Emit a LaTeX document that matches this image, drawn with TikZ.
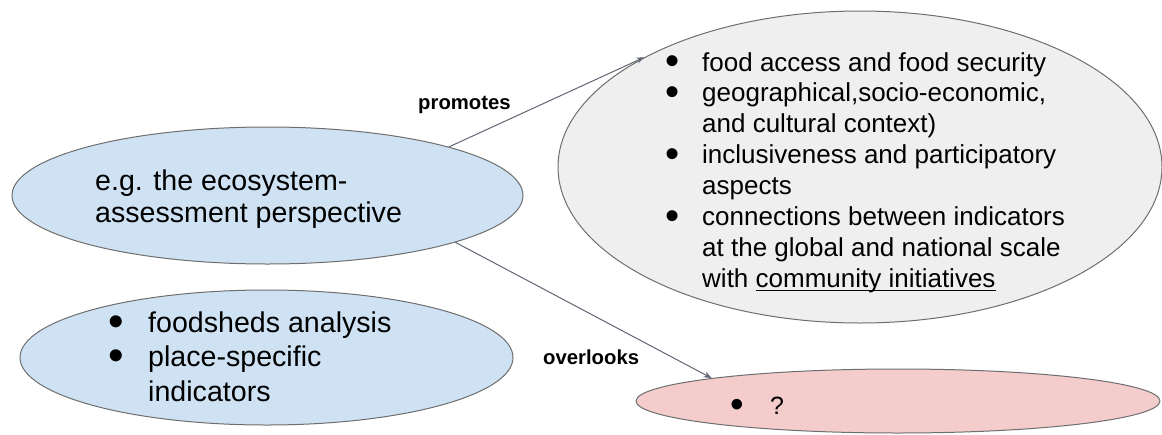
\documentclass[tikz,border=0pt]{standalone}
\usepackage{fontspec}
\setmainfont{Liberation Sans}
\usetikzlibrary{shapes.geometric,arrows.meta}
\definecolor{blueFill}{HTML}{CFE2F3}
\definecolor{grayFill}{HTML}{EFEFEF}
\definecolor{pinkFill}{HTML}{F4CCCC}
\definecolor{edgeCol}{HTML}{6E6E6E}
\definecolor{connCol}{HTML}{5F6673}
\tikzset{
  x=1pt, y=-1pt,
  oval/.style={ellipse, draw=edgeCol, line width=1pt, inner sep=0pt},
  conn/.style={draw=connCol, line width=1pt, -{Stealth[length=8pt,width=6pt]}},
  txt/.style={inner sep=0pt, anchor=base west, align=left},
  lbl/.style={inner sep=0pt, anchor=base west, font=\fontsize{20.3}{24}\selectfont\bfseries}
}
\newcommand{\bul}[1]{\makebox[#1][l]{\smash{\raisebox{-0.14em}{\scalebox{1.55}{\textbullet}}}}}
\newcommand{\myul}[1]{\setbox0\hbox{#1}\rlap{\rule[-3.5pt]{\wd0}{1.1pt}}\box0}
\begin{document}
\begin{tikzpicture}
\useasboundingbox (0,0) rectangle (1162,434);
% ellipses
\node[oval, fill=blueFill, minimum width=511pt, minimum height=137pt] (A) at (267.5,195.5) {};
\node[oval, fill=blueFill, minimum width=493pt, minimum height=135pt] (B) at (266.5,357.5) {};
\node[oval, fill=grayFill, minimum width=604pt, minimum height=312pt] (C) at (860,167) {};
\node[oval, fill=pinkFill, minimum width=524pt, minimum height=64pt] (D) at (898,401) {};
% texts
\node[txt, font=\fontsize{28.6}{32}\selectfont] (At) at (95,190)
  {\begin{tabular}[t]{@{}l@{}}e.g. the ecosystem-\\assessment perspective\end{tabular}};
\node[txt, font=\fontsize{28.6}{34.5}\selectfont] (Bt) at (108,332)
  {\begin{tabular}[t]{@{}l@{}l@{}}\bul{40pt} & foodsheds analysis\\
   \bul{40pt} & place-specific\\ & indicators\end{tabular}};
\node[txt, font=\fontsize{26}{30.9}\selectfont] (Ct) at (665,71)
  {\begin{tabular}[t]{@{}l@{}l@{}}\bul{37pt} & food access and food security\\
   \bul{37pt} & geographical,socio-economic,\\
   & and cultural context)\\
   \bul{37pt} & inclusiveness and participatory\\
   & aspects\\
   \bul{37pt} & connections between indicators\\
   & at the global and national scale\\
   & with \myul{community initiatives}\end{tabular}};
\node[txt, font=\fontsize{25}{30}\selectfont] (Dt) at (730,414)
  {\bul{40pt}?};
% connectors
\draw[conn] (A.15) -- (C.153.8);
\draw[conn] (A.-14.9) -- (D.173.3);
\node[lbl] (promotes) at (418,109) {promotes};
\node[lbl] (overlooks) at (543,364) {overlooks};
\end{tikzpicture}
\end{document}
